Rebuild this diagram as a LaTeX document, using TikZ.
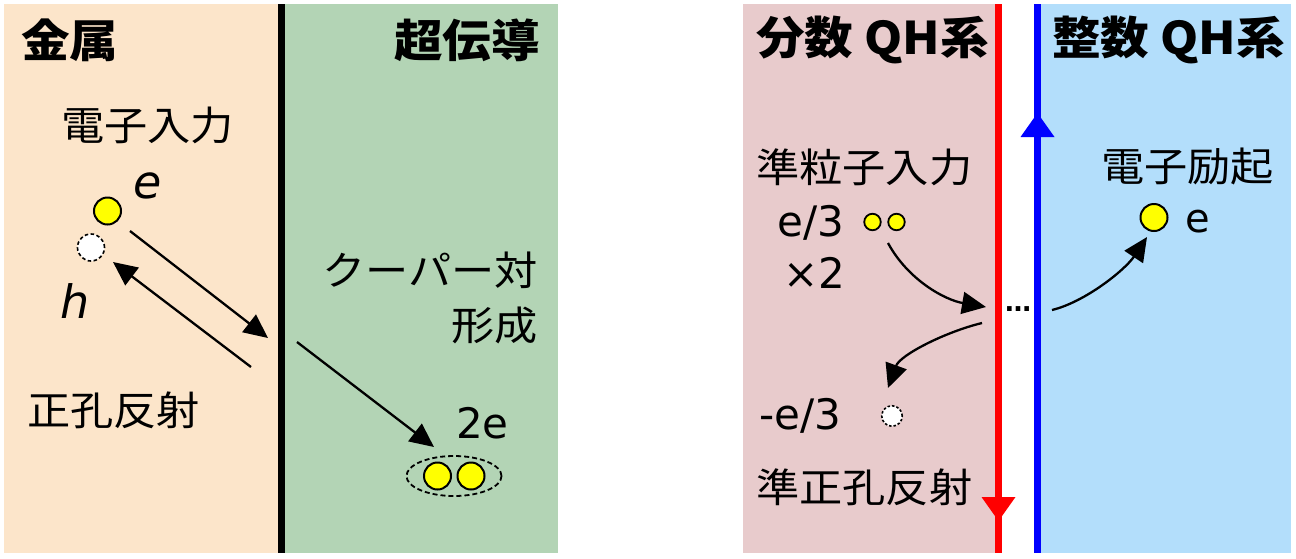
\documentclass[tikz,border=0pt]{standalone}
\usepackage{fontspec}
\setmainfont{DejaVu Sans}
\newfontfamily\jp[FakeStretch=1.08]{Noto Sans CJK JP}
\newfontfamily\lat{DejaVu Sans}
\newcommand\myfs[1]{\fontsize{#1}{#1}\selectfont}
\usetikzlibrary{arrows.meta,shapes.geometric}
\definecolor{metal}{RGB}{252,229,202}
\definecolor{scgreen}{RGB}{179,212,181}
\definecolor{fqh}{RGB}{232,203,204}
\definecolor{iqh}{RGB}{179,222,251}
\definecolor{lineRed}{RGB}{255,0,0}
\definecolor{lineBlue}{RGB}{0,0,255}
\definecolor{elecYellow}{RGB}{255,255,0}
\tikzset{
  jpt/.style={inner sep=0pt, font={\jp\myfs{40}}},
  head/.style={inner sep=0pt, font={\jp\bfseries\myfs{45}}},
  lt/.style={inner sep=0pt, font={\lat\myfs{42}}},
  lit/.style={inner sep=0pt, font={\lat\itshape\myfs{46}}},
  elec/.style={circle, draw=black, fill=elecYellow, line width=2pt, minimum size=27pt, inner sep=0pt},
  smallelec/.style={circle, draw=black, fill=elecYellow, line width=1.8pt, minimum size=16.5pt, inner sep=0pt},
  hole/.style={circle, draw=black, fill=white, line width=1.6pt, dash pattern=on 3.5pt off 2.5pt, minimum size=27pt, inner sep=0pt},
  smallhole/.style={circle, draw=black, fill=white, line width=1.6pt, dash pattern=on 2.5pt off 2pt, minimum size=20.5pt, inner sep=0pt},
  pairring/.style={ellipse, draw=black, line width=1.8pt, dash pattern=on 5pt off 3pt, minimum width=95pt, minimum height=40pt, inner sep=0pt},
  arr/.style={line width=2.3pt, -{Triangle[length=24pt,width=22pt]}},
}
\begin{document}
\begin{tikzpicture}[x=1pt,y=-1pt]
\useasboundingbox (0,0) rectangle (1296,558);
\fill[white] (0,0) rectangle (1296,558);
% panels
\fill[metal] (4,4) rectangle (279,553);
\fill[scgreen] (284,4) rectangle (558,553);
\fill[black] (278,4) rectangle (285,553);
\fill[fqh] (743,4) rectangle (996,553);
\fill[iqh] (1040,4) rectangle (1291,553);
\fill[lineRed] (995,4) rectangle (1002,553);
\fill[lineBlue] (1034,4) rectangle (1041,553);
\fill[lineBlue] (1037.5,113) -- (1020.5,137) -- (1054.5,137) -- cycle;
\fill[lineRed] (998.5,521) -- (981.5,497) -- (1015.5,497) -- cycle;

% ---- left: metal / superconductor
\node[head, anchor=west] (metalT) at (21,40) {金属};
\node[head, anchor=east] (scT) at (540,40) {超伝導};
\node[jpt, anchor=west] (einT) at (61,125) {電子入力};
\node[elec] (e1) at (107.5,211) {};
\node[hole] (h1) at (91,247.5) {};
\node[lit] (eL) at (148,186) {e};
\node[lit] (hL) at (75,301) {h};
\node[jpt, anchor=west] (hrT) at (27,410) {正孔反射};
\node[jpt, anchor=east] (cpT) at (538,270) {クーパー対};
\node[jpt, anchor=east] (cpT2) at (538,325) {形成};
\node[lt, anchor=base west] (twoe) at (456,438) {2e};
\node[pairring] (pair) at (454,476) {};
\node[elec] (p1) at (437.5,476) {};
\node[elec] (p2) at (471,476) {};

\coordinate (a1s) at (130,231);
\coordinate (a1e) at (268,338);
\coordinate (a2s) at (251,367);
\coordinate (a2e) at (113,262);
\coordinate (a3s) at (297,342);
\coordinate (a3e) at (434,447);
\draw[arr] (a1s) -- (a1e);
\draw[arr] (a2s) -- (a2e);
\draw[arr] (a3s) -- (a3e);

% ---- right: FQH / IQH
\node[head, anchor=west] (fqhT) at (756,40) {分数 QH系};
\node[head, anchor=east] (iqhT) at (1285,40) {整数 QH系};
\node[jpt, anchor=west] (qinT) at (756,167) {準粒子入力};
\node[lt, anchor=base west] (e3) at (777,236) {e/3};
\node[smallelec] (q1) at (872.5,222) {};
\node[smallelec] (q2) at (896.5,222) {};
\node[lt, anchor=base west] (x2) at (783,288) {×2};
\node[inner sep=0pt, font={\lat\bfseries\myfs{26}}] (dots) at (1018,309) {…};
\node[smallhole] (qh) at (892,416) {};
\node[lt, anchor=base west] (me3) at (759,429) {-e/3};
\node[jpt, anchor=west] (qhrT) at (756,487) {準正孔反射};
\node[jpt, anchor=west] (exT) at (1101,166) {電子励起};
\node[elec] (eR) at (1154,217.5) {};
\node[lt, font={\lat\myfs{40}}, anchor=base west] (eRl) at (1185,232) {e};

\coordinate (c1s) at (888,243);
\coordinate (c1e) at (986,307);
\coordinate (c2s) at (982,323);
\coordinate (c2e) at (888,388);
\coordinate (c3s) at (1052,310);
\coordinate (c3e) at (1147,237);
\draw[arr] (c1s) .. controls (908,280) and (945,300) .. (c1e);
\draw[arr] (c2s) .. controls (945,332) and (900,355) .. (c2e);
\draw[arr] (c3s) .. controls (1085,302) and (1125,270) .. (c3e);
\end{tikzpicture}
\end{document}
